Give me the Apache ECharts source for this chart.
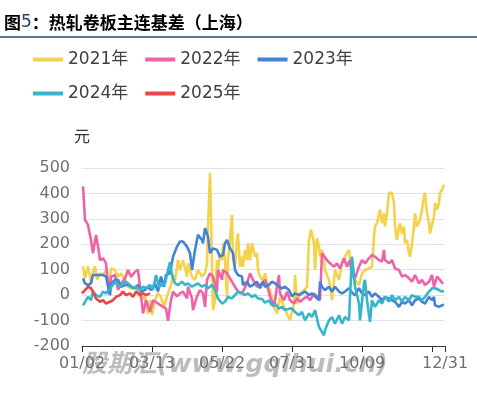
<!DOCTYPE html>
<html>
<head>
<meta charset="utf-8">
<script src="https://cdn.jsdelivr.net/npm/echarts@6/dist/echarts.min.js"></script>
<style>
    html, body { margin: 0; padding: 0; background: #fff; }
    #chart1 { width: 477px; height: 397px; }
</style>
</head>
<body>
<div id="chart1"></div>
<script>
// 横轴是 01/02 之后的天数
var tickDays = [0, 70, 140, 210, 280, 363];
var tickLabels = ['01/02', '03/13', '05/22', '07/31', '10/09', '12/31'];
var yearNames = ['2021年', '2022年', '2023年', '2024年', '2025年'];

var y2021 = [[1,113],[3,66],[6,113],[9,53],[11,92],[13,113],[15,60],[18,86],[21,79],[24,99],[27,20],[29,105],[33,99],[36,73],[39,86],[43,60],[46,33],[49,27],[53,33],[56,14],[59,-13],[63,-7],[66,-72],[68,-20],[70,-79],[73,-20],[76,7],[79,-7],[82,-46],[86,7],[89,40],[91,80],[93,60],[95,110],[96,138],[98,99],[101,138],[105,73],[106,125],[110,73],[113,60],[116,99],[120,73],[123,86],[125,125],[126,270],[128,481],[130,138],[131,-59],[133,-20],[135,138],[136,99],[138,165],[140,138],[141,204],[143,138],[145,-7],[146,138],[148,217],[150,316],[151,138],[153,112],[155,217],[156,243],[158,112],[160,151],[161,112],[163,178],[165,138],[166,204],[168,138],[170,204],[173,151],[175,165],[176,99],[178,73],[181,60],[183,86],[185,46],[188,20],[192,-46],[195,-72],[198,-7],[202,-46],[205,-72],[208,-99],[212,-33],[213,79],[215,-33],[218,7],[222,20],[225,33],[227,217],[229,257],[232,204],[233,99],[235,224],[237,191],[238,151],[240,178],[242,138],[243,99],[247,60],[250,-20],[253,99],[257,60],[260,125],[263,151],[267,178],[270,80],[273,60],[277,40],[280,86],[283,99],[287,105],[290,112],[292,230],[293,270],[295,283],[297,322],[298,336],[300,283],[302,322],[303,270],[305,322],[307,402],[308,408],[310,402],[312,362],[313,270],[315,217],[317,270],[318,283],[320,243],[322,270],[323,204],[325,217],[327,165],[328,151],[330,204],[332,270],[333,322],[335,270],[337,263],[338,296],[340,336],[342,388],[343,402],[345,322],[347,283],[348,243],[350,250],[352,309],[353,362],[355,336],[357,362],[358,402],[360,415],[362,434]];

var y2022 = [[1,428],[3,296],[6,276],[9,217],[11,165],[14,237],[16,191],[18,138],[21,145],[24,125],[27,7],[29,72],[33,79],[36,20],[39,46],[43,66],[46,99],[49,72],[53,92],[56,99],[58,99],[59,0],[61,-72],[64,-20],[68,-66],[71,-20],[76,-33],[81,-46],[84,-53],[86,-101],[89,-20],[91,14],[95,-5],[98,7],[101,14],[105,-13],[106,33],[110,-13],[111,-59],[115,-5],[118,20],[121,7],[123,-46],[125,60],[128,86],[131,73],[135,14],[136,99],[140,60],[141,99],[145,86],[148,66],[151,46],[155,20],[158,7],[161,14],[165,46],[168,86],[171,60],[175,33],[178,40],[180,33],[183,60],[185,40],[188,-5],[192,-46],[195,33],[197,79],[198,7],[202,-20],[205,14],[208,-20],[212,-33],[215,-13],[218,-26],[222,-13],[225,-5],[228,-20],[232,7],[235,-5],[238,-20],[240,165],[242,171],[245,138],[248,125],[252,112],[255,125],[258,105],[262,145],[265,112],[268,138],[270,79],[273,66],[277,112],[280,138],[283,125],[287,145],[290,158],[293,151],[297,138],[300,132],[302,178],[303,138],[307,125],[310,138],[313,105],[317,99],[320,73],[323,79],[327,66],[330,53],[333,79],[337,46],[340,60],[343,40],[347,53],[350,79],[352,33],[355,73],[358,60],[361,44]];

var y2023 = [[1,66],[3,46],[6,40],[9,46],[11,79],[14,79],[18,79],[21,79],[24,73],[28,0],[29,46],[33,60],[36,60],[39,33],[43,40],[46,40],[49,33],[53,27],[56,40],[59,14],[63,20],[66,33],[69,20],[73,46],[76,14],[79,73],[82,33],[84,79],[88,86],[91,151],[95,191],[98,211],[101,211],[105,191],[108,165],[110,99],[113,178],[116,237],[120,217],[121,204],[123,263],[125,270],[126,230],[128,165],[131,184],[135,178],[138,151],[141,158],[143,204],[145,217],[148,184],[151,165],[153,99],[156,79],[160,73],[161,40],[165,53],[168,33],[171,40],[175,53],[178,27],[181,53],[183,33],[187,40],[190,53],[193,46],[197,33],[200,27],[203,33],[207,20],[210,-5],[213,7],[217,0],[220,7],[223,14],[227,0],[230,7],[233,-5],[237,-20],[238,53],[240,33],[243,20],[247,33],[250,14],[253,33],[257,14],[260,7],[263,14],[267,27],[270,10],[273,0],[277,27],[280,7],[283,0],[287,14],[290,-7],[293,7],[297,-7],[300,-20],[303,-7],[307,-13],[310,-20],[313,-26],[317,-46],[320,-26],[323,-33],[327,-20],[330,-40],[333,-20],[337,-13],[340,-26],[343,-33],[347,-7],[350,-20],[352,-7],[353,-40],[357,-46],[360,-40],[362,-38]];

var y2024 = [[1,-40],[3,-33],[6,-7],[9,-20],[11,14],[14,0],[18,-7],[21,14],[24,7],[28,27],[31,40],[34,53],[38,33],[41,46],[44,53],[48,40],[51,27],[54,33],[58,20],[61,33],[64,27],[68,40],[71,20],[74,79],[77,33],[79,33],[83,46],[86,99],[88,130],[90,79],[93,46],[96,40],[100,53],[103,40],[106,46],[110,33],[113,40],[116,46],[120,33],[123,40],[126,27],[130,40],[133,20],[136,-13],[140,-33],[143,-26],[146,-7],[150,-13],[153,0],[156,14],[160,7],[163,0],[166,7],[170,-7],[173,0],[176,-13],[180,-15],[183,-30],[187,-20],[190,-40],[193,-33],[197,-53],[200,-46],[203,-59],[207,-53],[210,-53],[213,-66],[217,-79],[220,-66],[223,-99],[227,-72],[230,-86],[233,-59],[237,-125],[240,-145],[242,-158],[243,-138],[247,-99],[250,-86],[253,-112],[257,-79],[260,-112],[263,-86],[267,-99],[268,-7],[270,151],[273,33],[277,-33],[278,-99],[282,46],[283,60],[285,-20],[288,-105],[290,-20],[293,-46],[297,-20],[300,-33],[303,-7],[307,-26],[310,0],[313,-20],[317,-7],[320,-26],[323,-7],[327,-20],[330,0],[333,-7],[337,-7],[340,-20],[343,-7],[347,14],[350,27],[353,27],[357,20],[360,14],[362,16]];

var y2025 = [[0,7],[3,20],[6,33],[9,27],[11,14],[14,-13],[18,-26],[21,-20],[24,-33],[28,-26],[31,-20],[34,-7],[38,0],[41,14],[44,0],[48,7],[51,-7],[54,14],[58,0],[61,7],[64,0],[68,7]];

var colors = ['#F4D24B', '#F062A8', '#4383D4', '#36B5CB', '#EE4444'];
var allData = [y2021, y2022, y2023, y2024, y2025];
var font = '"DejaVu Sans", "Noto Sans CJK SC", sans-serif';

var series = [];
for (var i = 0; i < allData.length; i++) {
    series.push({
        name: yearNames[i],
        type: 'line',
        data: allData[i],
        showSymbol: false,
        symbol: 'none',
        lineStyle: { width: 2.6, color: colors[i] },
        itemStyle: { color: colors[i] },
        animation: false
    });
}

var option = {
    color: colors,
    animation: false,
    title: {
        text: '{b|图}{n|5}{b|：热轧卷板主连基差（上海）}',
        left: 4,
        top: 14,
        padding: 0,
        textStyle: {
            rich: {
                b: { fontSize: 17, fontWeight: 'bold', color: '#000', fontFamily: '"Noto Sans CJK SC"' },
                n: { fontSize: 17, fontWeight: 'normal', color: '#1F3F6A', fontFamily: '"DejaVu Sans"' }
            }
        }
    },
    graphic: [
        {
            type: 'line',
            shape: { x1: 0, y1: 37, x2: 477, y2: 37 },
            style: { stroke: '#1F4E79', lineWidth: 1.5 }
        },
        {
            // 水印
            type: 'text',
            left: 82,
            top: 353,
            z: 0,
            style: {
                text: '股期汇(www.gqihui.cn)',
                fontSize: 25,
                fontWeight: 'bold',
                fontStyle: 'italic',
                fontFamily: '"DejaVu Sans", "Noto Sans CJK SC"',
                fill: 'rgba(165,165,165,0.75)'
            }
        }
    ],
    legend: {
        data: yearNames,
        left: 33,
        top: 51,
        width: 330,
        padding: 0,
        itemGap: 17,
        itemWidth: 30,
        itemHeight: 4,
        icon: 'rect',
        textStyle: { fontSize: 17, color: '#404040', fontFamily: font }
    },
    grid: { left: 82, right: 32, top: 168, bottom: 51 },
    xAxis: {
        type: 'value',
        min: 0,
        max: 363,
        interval: 70,
        z: 10,
        splitLine: { show: false },
        axisLine: { onZero: false, lineStyle: { color: '#333', width: 1.2 } },
        axisTick: { show: true, length: 6, lineStyle: { color: '#333' } },
        axisLabel: {
            showMinLabel: true,
            showMaxLabel: true,
            margin: 10,
            fontSize: 16,
            color: '#6E7079',
            fontFamily: font,
            formatter: function (v) {
                var k = tickDays.indexOf(v);
                return k >= 0 ? tickLabels[k] : '';
            }
        }
    },
    yAxis: {
        type: 'value',
        min: -200,
        max: 500,
        interval: 100,
        name: '元',
        nameLocation: 'end',
        nameGap: 22,
        nameTextStyle: { fontSize: 16, color: '#333', fontFamily: font },
        axisLine: { show: false },
        axisTick: { show: false },
        splitLine: { lineStyle: { color: '#DDE2EE', width: 1.2 } },
        axisLabel: { margin: 12, fontSize: 16, color: '#6E7079', fontFamily: font }
    },
    series: series
};

var chart = echarts.init(document.getElementById('chart1'));
chart.setOption(option);
</script>
</body>
</html>
